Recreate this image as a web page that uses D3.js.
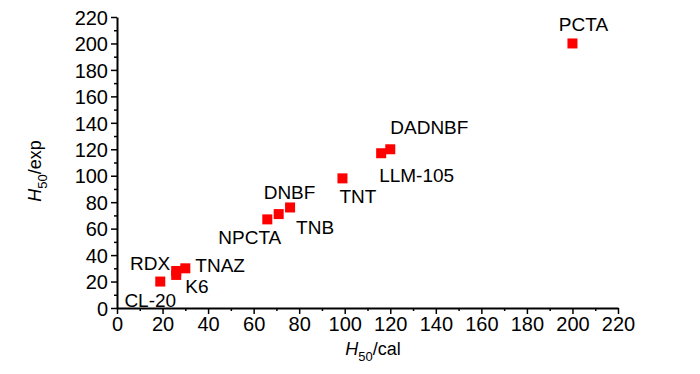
<!doctype html>
<html>
  <head>
    <meta charset="utf-8">
    <title>H50 exp vs cal</title>
    <script src="https://cdnjs.cloudflare.com/ajax/libs/d3/7.8.5/d3.min.js"></script>
    <style>
      body { margin: 0; background: #fff; }
      .tick text { font-family: "Liberation Sans Narrow", "Liberation Sans", Arial, sans-serif; font-size: 20px; fill: #000; }
      .lbl { font-family: "Liberation Sans", Arial, sans-serif; font-size: 19px; fill: #000; }
      .ttl { font-family: "Liberation Sans", Arial, sans-serif; font-size: 18px; fill: #000; }
    </style>
  </head>
  <body>
    <div id="chart"></div>
    <script>
    // data
    let names = ["CL-20", "RDX", "K6", "TNAZ", "NPCTA", "DNBF", "TNB", "TNT", "LLM-105", "DADNBF", "PCTA"];
    let calc  = [19, 26, 26, 30, 66, 71, 76, 99, 116, 120, 200];
    let expt  = [20, 28, 25, 30, 67, 71, 76, 98, 117, 120, 200];
    let ticks = [0, 20, 40, 60, 80, 100, 120, 140, 160, 180, 200, 220];

    // label placement relative to each point: [dx, dy, anchor]
    let labelPos = {
      "CL-20":  [-10, 25, "middle"],
      "RDX":    [-6, -1, "end"],
      "K6":     [9, 18, "start"],
      "TNAZ":   [10, 4, "start"],
      "NPCTA":  [14, 25, "end"],
      "DNBF":   [-15, -15, "start"],
      "TNB":    [6, 27, "start"],
      "TNT":    [-3, 25, "start"],
      "LLM-105":[-2, 29, "start"],
      "DADNBF": [0, -15, "start"],
      "PCTA":   [11, -12, "middle"]
    };

    let pts = names.map((n, i) => ({ name: n, x: calc[i], y: expt[i] }));

    let svg = d3.select("#chart").append("svg")
      .attr("width", 700)
      .attr("height", 374);

    let x = d3.scaleLinear().domain([0, 220]).range([117, 618]);
    let y = d3.scaleLinear().domain([0, 220]).range([308, 17]);
    let minor = d3.range(10, 220, 20);

    // minor ticks
    svg.append("g").attr("transform", "translate(0,308)")
      .call(d3.axisBottom(x).tickValues(minor).tickSize(3).tickFormat(""))
      .call(g => g.select(".domain").remove())
      .selectAll("line").attr("stroke-width", 1.5);
    svg.append("g").attr("transform", "translate(117,0)")
      .call(d3.axisLeft(y).tickValues(minor).tickSize(3).tickFormat(""))
      .call(g => g.select(".domain").remove())
      .selectAll("line").attr("stroke-width", 1.5);

    // main axes
    let xAxis = svg.append("g").attr("transform", "translate(0,308)")
      .call(d3.axisBottom(x).tickValues(ticks).tickSize(6).tickSizeOuter(0).tickPadding(3));
    let yAxis = svg.append("g").attr("transform", "translate(117,0)")
      .call(d3.axisLeft(y).tickValues(ticks).tickSize(6).tickSizeOuter(0).tickPadding(3));
    [xAxis, yAxis].forEach(g => {
      g.select(".domain").attr("stroke-width", 2);
      g.selectAll(".tick line").attr("stroke-width", 1.5);
      g.attr("font-family", null).attr("font-size", null);
    });
    yAxis.selectAll(".tick text").attr("dy", "0.36em");

    // points
    svg.selectAll("rect.pt")
      .data(pts)
      .join("rect")
      .attr("class", "pt")
      .attr("x", d => x(d.x) - 5)
      .attr("y", d => y(d.y) - 5)
      .attr("width", 10)
      .attr("height", 10)
      .attr("fill", "#ff0000");

    svg.selectAll("text.lbl")
      .data(pts)
      .join("text")
      .attr("class", "lbl")
      .attr("x", d => x(d.x) + labelPos[d.name][0])
      .attr("y", d => y(d.y) + labelPos[d.name][1])
      .attr("text-anchor", d => labelPos[d.name][2])
      .text(d => d.name);

    // axis titles
    let xt = svg.append("text").attr("class", "ttl")
      .attr("x", 373).attr("y", 355).attr("text-anchor", "middle");
    xt.append("tspan").attr("font-style", "italic").text("H");
    xt.append("tspan").attr("font-size", "13px").attr("dy", 6).text("50");
    xt.append("tspan").attr("dy", -6).text("/cal");

    let yt = svg.append("text").attr("class", "ttl")
      .attr("transform", "translate(41,171) rotate(-90)")
      .attr("text-anchor", "middle");
    yt.append("tspan").attr("font-style", "italic").text("H");
    yt.append("tspan").attr("font-size", "13px").attr("dy", 6).text("50");
    yt.append("tspan").attr("dy", -6).text("/exp");
    </script>
  </body>
</html>
